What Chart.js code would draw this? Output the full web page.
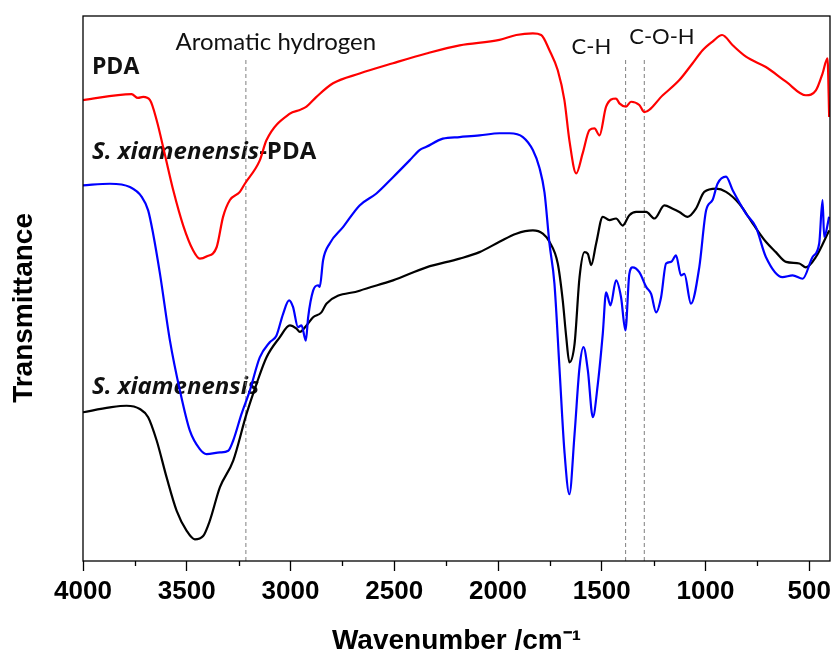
<!DOCTYPE html>
<html>
<head>
<meta charset="utf-8">
<script src="https://cdn.jsdelivr.net/npm/chart.js@4.4.1/dist/chart.umd.min.js"></script>
<style>
  body { margin: 0; background: #fff; }
</style>
</head>
<body>
<canvas id="mycanvas" width="836" height="660"></canvas>
<script>
// FTIR spectra, wavenumber (cm-1) vs transmittance (arbitrary units)
var redWn = [4000,3766,3735,3710,3677,3645,3605,3565,3517,3469,3437,3405,3356,3325,3292,3244,3220,3148,3116,3003,2955,2923,2875,2795,2667,2506,2345,2185,1993,1912,1832,1792,1752,1712,1680,1656,1623,1592,1559,1535,1511,1479,1431,1415,1383,1359,1319,1295,1206,1126,1062,1014,966,920,869,805,709,612,516,468,436,412,404];
var redT = [84.5,85.6,84.9,85.1,84.5,80.8,74.4,67.9,61.4,56.8,55.3,55.7,57.4,63.0,66.1,67.6,69.1,73.4,77.1,82.0,82.7,83.3,85.1,87.6,89.4,91.3,93.1,94.6,95.6,96.5,96.8,96.5,93.7,90.0,84.5,77.1,71.0,74.7,79.0,79.3,78.0,83.3,84.8,83.9,83.3,84.2,83.6,82.3,85.4,88.2,91.3,93.7,95.3,96.5,94.6,92.5,90.6,87.9,85.4,86.3,89.4,92.2,81.4];

var blueWn = [4000,3870,3774,3717,3686,3662,3629,3581,3533,3485,3437,3405,3340,3300,3276,3236,3196,3148,3100,3068,3036,3007,2988,2964,2947,2926,2915,2891,2867,2859,2843,2811,2747,2667,2586,2506,2426,2378,2345,2266,2185,2089,1993,1944,1880,1832,1800,1776,1752,1728,1704,1680,1656,1631,1607,1588,1567,1543,1519,1495,1479,1458,1431,1407,1386,1367,1351,1319,1286,1262,1238,1214,1190,1166,1142,1118,1102,1070,1030,997,966,942,901,869,805,757,709,629,580,532,484,452,436,428,404];
var blueT = [68.8,69.1,68.5,66.7,64.2,59.9,52.5,40.2,31.0,23.6,20.2,19.3,19.6,19.9,21.8,26.7,31.0,37.1,39.9,41.1,45.1,47.6,46.4,42.7,43.0,40.2,44.5,49.4,50.4,50.1,55.0,58.1,61.1,65.1,67.3,70.3,73.4,75.3,75.9,77.4,77.7,78.0,78.4,78.4,77.7,75.3,72.0,67.5,58.1,50.7,35.3,19.9,11.9,23.0,35.3,39.0,34.7,26.1,32.2,41.5,49.1,46.7,51.3,48.2,42.1,52.5,53.7,52.8,50.1,48.8,45.4,48.2,54.4,54.7,55.9,52.2,52.5,47.0,53.7,64.2,66.1,69.1,70.4,67.9,63.6,61.1,55.6,51.9,52.2,51.6,55.6,58.1,66.1,59.3,63.0];

var blackWn = [4000,3870,3790,3726,3686,3645,3597,3549,3501,3461,3421,3389,3340,3276,3212,3164,3116,3052,3003,2971,2955,2923,2891,2851,2827,2667,2506,2345,2185,2089,1993,1912,1832,1784,1752,1712,1688,1671,1656,1631,1607,1583,1567,1551,1527,1495,1463,1431,1399,1367,1334,1286,1246,1198,1158,1126,1086,1046,1006,949,901,837,773,709,661,612,548,516,468,404];
var blackT = [27.0,27.9,28.2,27.6,26.1,21.8,15.0,8.9,5.2,3.6,4.2,7.0,13.2,18.1,26.7,32.2,37.1,40.8,43.0,42.4,41.8,43.0,44.5,45.4,47.0,49.4,51.3,53.7,55.3,56.5,58.4,59.9,60.5,59.9,58.4,54.4,47.6,40.8,36.2,39.6,51.9,56.5,56.2,54.1,58.1,63.0,62.4,62.7,61.4,63.3,63.9,63.9,62.7,65.1,64.5,63.9,63.0,64.5,67.6,68.2,67.6,65.4,61.8,58.4,56.5,54.7,54.4,53.7,55.6,60.5];

var markerWn = [3215, 1385, 1295];
var markerTop = 92;

var xTicks = [4000, 3500, 3000, 2500, 2000, 1500, 1000, 500];
var xMinorTicks = [3750, 3250, 2750, 2250, 1750, 1250, 750];

var yMin = -0.4, yMax = 100;

function pts(wn, t) {
	var out = [];
	for (var i in wn) {
		out.push({x: wn[i], y: t[i]});
	}
	return out;
}

var datasets = [
	{ data: pts(redWn, redT), borderColor: '#ff0000' },
	{ data: pts(blueWn, blueT), borderColor: '#0000ff' },
	{ data: pts(blackWn, blackT), borderColor: '#000000' }
].map(function(d) {
	d.borderWidth = 2.2;
	d.pointRadius = 0;
	d.cubicInterpolationMode = 'monotone';
	return d;
});

markerWn.forEach(function(v) {
	datasets.push({
		data: [{x: v, y: yMin}, {x: v, y: markerTop}],
		borderColor: '#7f7f7f',
		borderWidth: 1,
		borderDash: [4, 3],
		pointRadius: 0
	});
});

// frame, minor ticks, in-plot labels
var decor = {
	id: 'decor',
	beforeDatasetsDraw: function(chart) {
		var ctx = chart.ctx;
		var x = chart.scales.x, y = chart.scales.y;
		ctx.save();
		ctx.fillStyle = '#111';
		ctx.textBaseline = 'middle';

		ctx.textAlign = 'center';
		ctx.font = '24px Lato';
		ctx.fillText('Aromatic hydrogen', x.getPixelForValue(3071), y.getPixelForValue(95.1));
		ctx.font = '22px Lato';
		ctx.fillText('C-H', x.getPixelForValue(1550), y.getPixelForValue(94.3));
		ctx.fillText('C-O-H', x.getPixelForValue(1210), y.getPixelForValue(96.2));

		ctx.textAlign = 'left';
		var lx = x.getPixelForValue(3957);
		ctx.font = "bold 23px 'Open Sans'";
		ctx.fillText('PDA', lx, y.getPixelForValue(90.6));

		ctx.font = "italic bold 24px 'Open Sans'";
		var w = ctx.measureText('S. xiamenensis').width;
		ctx.fillText('S. xiamenensis', lx, y.getPixelForValue(75.0));
		ctx.font = "bold 24px 'Open Sans'";
		ctx.fillText('-PDA', lx + w, y.getPixelForValue(75.0));

		ctx.font = "italic bold 24px 'Open Sans'";
		ctx.fillText('S. xiamenensis', lx, y.getPixelForValue(31.6));
		ctx.restore();
	},
	afterDraw: function(chart) {
		var ctx = chart.ctx;
		var a = chart.chartArea;
		var x = chart.scales.x;
		ctx.save();
		ctx.strokeStyle = '#000';
		ctx.lineWidth = 1.3;
		ctx.strokeRect(a.left, a.top, a.right - a.left, a.bottom - a.top);
		ctx.beginPath();
		xMinorTicks.forEach(function(v) {
			var px = Math.round(x.getPixelForValue(v)) + 0.5;
			ctx.moveTo(px, a.bottom);
			ctx.lineTo(px, a.bottom + 5);
		});
		ctx.stroke();
		ctx.restore();
	}
};

var ctx = document.getElementById('mycanvas');

var spectra = new Chart(ctx, {
	type: 'line',
	data: { datasets: datasets },
	plugins: [decor],
	options: {
		responsive: false,
		animation: false,
		layout: { padding: { left: 3.4, right: 6, top: 16, bottom: 2.2 } },
		plugins: {
			legend: { display: false },
			tooltip: { enabled: false }
		},
		scales: {
			x: {
				type: 'linear',
				min: 400,
				max: 4000,
				reverse: true,
				afterBuildTicks: function(scale) {
					scale.ticks = xTicks.map(function(v) { return {value: v}; });
				},
				afterFit: function(scale) {
					scale.paddingRight = 0;
				},
				ticks: {
					autoSkip: false,
					maxRotation: 0,
					padding: 5,
					color: '#000',
					font: { family: "'Liberation Sans', Arial", size: 26, weight: 'bold' },
					callback: function(v) { return String(v); }
				},
				grid: {
					display: true,
					drawOnChartArea: false,
					drawTicks: true,
					tickLength: 10,
					tickColor: '#000',
					tickWidth: 1.3
				},
				border: { display: false },
				title: {
					display: true,
					text: 'Wavenumber /cm\u207B\u00B9',
					color: '#000',
					font: { family: "'Liberation Sans', Arial", size: 28, weight: 'bold' },
					padding: { top: 12, bottom: 0 }
				}
			},
			y: {
				min: yMin,
				max: yMax,
				ticks: { display: false },
				grid: { display: false },
				border: { display: false },
				title: {
					display: true,
					text: 'Transmittance     ',
					color: '#000',
					font: { family: "'Liberation Sans', Arial", size: 28, weight: 'bold' },
					padding: { top: 4, bottom: 34 }
				}
			}
		}
	}
});
</script>
</body>
</html>
